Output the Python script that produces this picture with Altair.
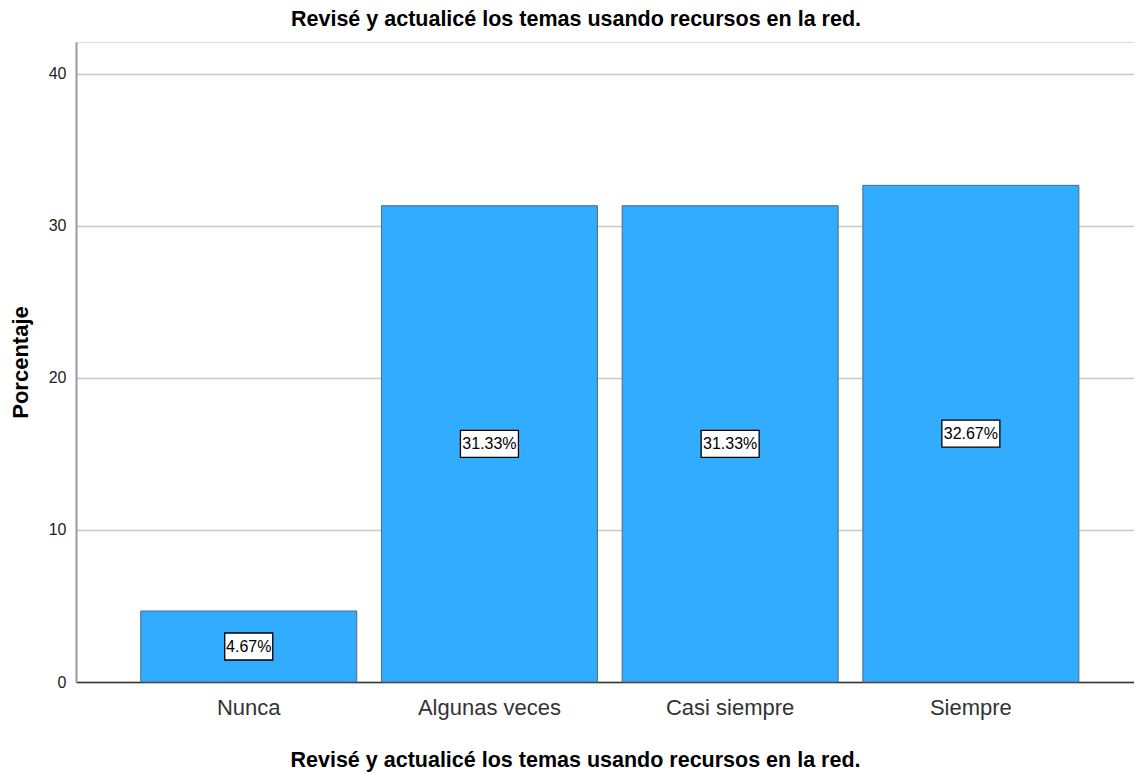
import altair as alt
import pandas as pd

categories = ["Nunca", "Algunas veces", "Casi siempre", "Siempre"]
values = [4.67, 31.33, 31.33, 32.67]
labels = ["4.67%", "31.33%", "31.33%", "32.67%"]

title_text = "Revisé y actualicé los temas usando recursos en la red."
FONT = "Liberation Sans, Arial"

df = pd.DataFrame({"cat": categories, "val": values, "lab": labels})

x_scale = alt.Scale(paddingInner=0.1026, paddingOuter=0.249, align=0.54)
y_scale = alt.Scale(domain=[0, 42.1], nice=False)

x_axis = alt.Axis(
    title=title_text,
    labelAngle=0,
    labelFont=FONT,
    labelFontSize=22,
    labelColor="#333333",
    labelPadding=15,
    ticks=False,
    domainColor="#333333",
    domainWidth=1.5,
    titleFont=FONT,
    titleFontSize=21.5,
    titleFontWeight="bold",
    titleColor="#000000",
    titlePadding=31,
    titleX=499,
)

y_axis = alt.Axis(
    title="Porcentaje",
    values=[0, 10, 20, 30, 40],
    grid=True,
    gridColor="#c8c8c8",
    gridWidth=1.5,
    ticks=False,
    labelFont=FONT,
    labelFontSize=16,
    labelColor="#222222",
    labelPadding=10,
    domainColor="#9a9a9a",
    domainWidth=2,
    titleFont=FONT,
    titleFontSize=22,
    titleFontWeight="bold",
    titleColor="#000000",
    titlePadding=16,
)

base = alt.Chart(df).transform_calculate(
    mid="datum.val / 2",
    w="10 * length(datum.lab) - 2",
).transform_calculate(
    sz="datum.w * datum.w",
    hp="format(27 / datum.w, '.4f')",
).transform_calculate(
    shp="'M-1,-' + datum.hp + 'L1,-' + datum.hp + 'L1,' + datum.hp + 'L-1,' + datum.hp + 'Z'",
)

x_enc = alt.X("cat:N", sort=categories, scale=x_scale, axis=x_axis)

bars = base.mark_bar(
    color="#31acff", stroke="#4f6b82", strokeWidth=1
).encode(
    x=x_enc,
    y=alt.Y("val:Q", scale=y_scale, axis=y_axis),
)

boxes = base.mark_point(
    filled=True, fill="white", stroke="#000000", strokeWidth=1.3, opacity=1
).encode(
    x=x_enc,
    y=alt.Y("mid:Q", scale=y_scale, axis=y_axis),
    shape=alt.Shape("shp:N", scale=None),
    size=alt.Size("sz:Q", scale=None),
)

texts = base.mark_text(
    font=FONT, fontSize=16, color="#000000", baseline="middle"
).encode(
    x=x_enc,
    y=alt.Y("mid:Q", scale=y_scale, axis=y_axis),
    text="lab:N",
)

chart = alt.layer(bars, boxes, texts).properties(
    width=1058,
    height=640,
    title=alt.TitleParams(
        text=title_text,
        font=FONT,
        fontSize=21.5,
        fontWeight="bold",
        color="#000000",
        anchor="middle",
        dx=-29,
        offset=12,
    ),
    padding={"left": 68, "top": 34, "right": 0, "bottom": 90},
    autosize=alt.AutoSizeParams(type="none"),
).configure_view(strokeWidth=0).configure(background="white")

chart.save("out.html", embed_options={"renderer": "svg", "actions": False})
